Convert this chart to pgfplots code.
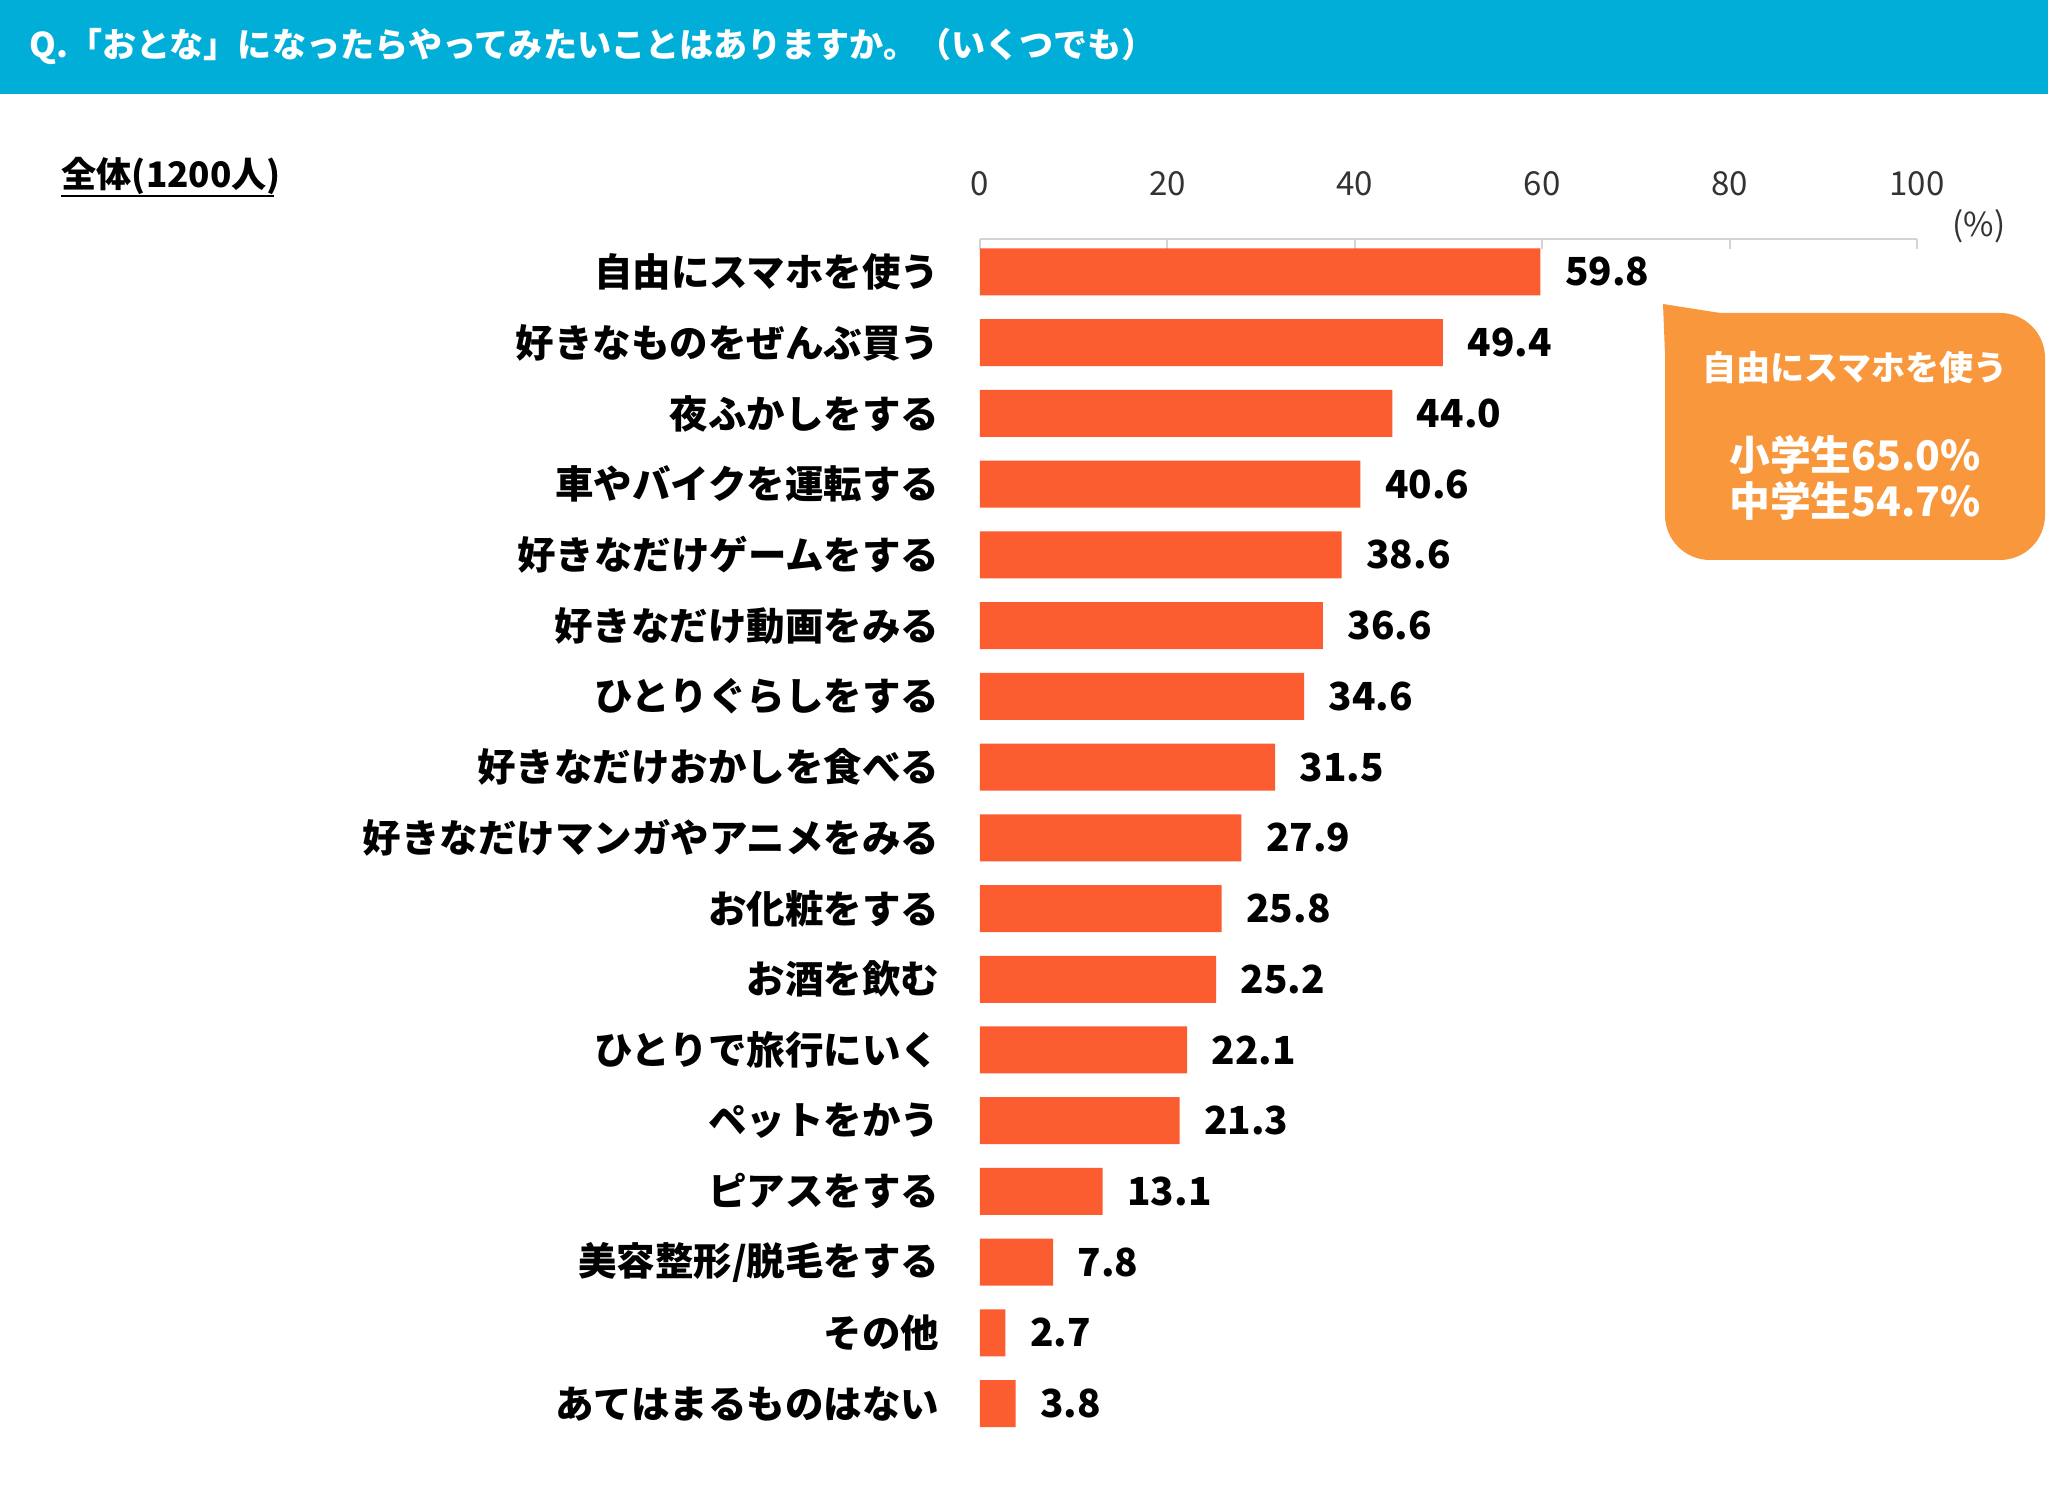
\documentclass[border=0pt]{standalone}
\usepackage{pgfplots}
\pgfplotsset{compat=1.18}
\usepackage{fontspec}
\setmainfont{Noto Sans CJK JP}
\definecolor{titleblue}{HTML}{00AED8}
\definecolor{barorange}{HTML}{FB5D31}
\definecolor{calloutorange}{HTML}{F8973B}
\definecolor{gridgray}{HTML}{D4D4D4}
\begin{document}
\begin{tikzpicture}[x=0.1mm,y=0.1mm]
\fill[white] (0,0) rectangle (2048,1494);
\fill[titleblue] (0,1400) rectangle (2048,1494);
\node[anchor=west, text=white, font=\bfseries\fontsize{9.7}{11}\selectfont, inner sep=0pt] at (29,1448) {Q.「おとな」になったらやってみたいことはありますか。（いくつでも）};
\node[anchor=west, text=black, font=\bfseries\fontsize{10}{11}\selectfont, inner sep=0pt] at (61,1318) {全体(1200人)};
\draw[black, line width=0.7pt] (61,1298) -- (274,1298);
\node[text=black!80, font=\fontsize{9.4}{11}\selectfont, inner sep=0pt] at (1979,1268) {(\%)};
% callout
\fill[calloutorange, rounded corners=4.5mm] (1665,934) rectangle (2045,1181);
\fill[calloutorange] (1663,1190) -- (1720,1181) -- (1665,1140) -- cycle;
\node[text=white, font=\bfseries\fontsize{9.7}{11}\selectfont, inner sep=0pt] at (1855,1126) {自由にスマホを使う};
\node[text=white, font=\bfseries\fontsize{11.6}{13}\selectfont, inner sep=0pt] at (1855,1039) {小学生65.0\%};
\node[text=white, font=\bfseries\fontsize{11.6}{13}\selectfont, inner sep=0pt] at (1855,993) {中学生54.7\%};
\begin{axis}[
  at={(98mm,5.5mm)}, anchor=south west,
  scale only axis, width=93.7mm, height=120mm,
  xmin=0, xmax=100, ymin=-0.5, ymax=16.466,
  xbar, bar width=4.7mm, bar shift=0pt,
  /pgf/number format/assume math mode=true,
  axis x line*=top, axis y line*=left,
  x axis line style={-, draw=gridgray, line width=0.6pt},
  y axis line style={draw=none},
  xtick={0,20,...,100}, tick align=inside,
  major tick length=1mm,
  tick style={draw=gridgray, line width=0.6pt},
  ytick style={draw=none},
  xticklabel style={font=\fontsize{9.4}{11}\selectfont, text=black!80, inner sep=0pt, yshift=4.2mm},
  ytick={0,...,16},
  yticklabels={あてはまるものはない,その他,美容整形/脱毛をする,ピアスをする,ペットをかう,ひとりで旅行にいく,お酒を飲む,お化粧をする,好きなだけマンガやアニメをみる,好きなだけおかしを食べる,ひとりぐらしをする,好きなだけ動画をみる,好きなだけゲームをする,車やバイクを運転する,夜ふかしをする,好きなものをぜんぶ買う,自由にスマホを使う},
  yticklabel style={font=\bfseries\fontsize{10.95}{12}\selectfont, text=black, inner sep=0pt, anchor=east, xshift=-4.0mm},
  nodes near coords={\pgfmathprintnumber[fixed,fixed zerofill,precision=1,assume math mode=true]{\pgfplotspointmeta}},
  nodes near coords style={anchor=west, inner sep=0pt, xshift=2.4mm, font=\bfseries\fontsize{11}{12}\selectfont, text=black},
  clip=false,
]
\addplot[fill=barorange, draw=none] coordinates {
(59.8,16) (49.4,15) (44.0,14) (40.6,13) (38.6,12) (36.6,11) (34.6,10) (31.5,9) (27.9,8) (25.8,7) (25.2,6) (22.1,5) (21.3,4) (13.1,3) (7.8,2) (2.7,1) (3.8,0)
};
\end{axis}
\end{tikzpicture}
\end{document}
